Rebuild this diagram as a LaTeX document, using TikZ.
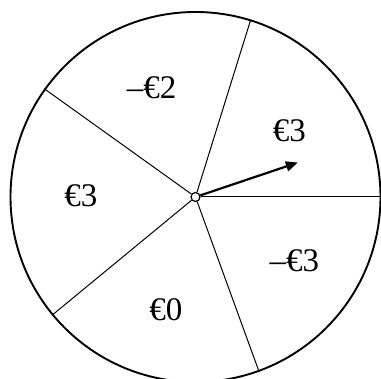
\documentclass[tikz,border=0pt]{standalone}
\usepackage{fontspec}
\setmainfont{Liberation Serif}
\usetikzlibrary{arrows.meta}

\begin{document}
\begin{tikzpicture}[x=1pt, y=1pt, spoke/.style={line width=1pt}, amount/.style={font=\fontsize{33}{35}\selectfont, inner sep=0pt}]
    \useasboundingbox (-195.5,-182) rectangle (185.5,197);
    \clip (-195.5,-182) rectangle (185.5,197);
    \draw[line width=1.9pt] (0,0) circle (185);
    \node (hub) [circle, draw, fill=white, inner sep=0pt, minimum size=9pt, line width=1.2pt] at (0,0) {};
    \coordinate (s1) at (0:186);
    \coordinate (s2) at (72.7:186);
    \coordinate (s3) at (144.4:186);
    \coordinate (s4) at (219.5:186);
    \coordinate (s5) at (290:186);
    \coordinate (tip) at (18.6:108);
    \draw[spoke] (hub) -- (s1);
    \draw[spoke] (hub) -- (s2);
    \draw[spoke] (hub) -- (s3);
    \draw[spoke] (hub) -- (s4);
    \draw[spoke] (hub) -- (s5);
    \draw[line width=2.2pt, -{Triangle[length=12pt,width=10pt]}] (hub) -- (tip);
    \node (mtwo)   [amount] at (-43.8,109.7) {–€2};
    \node (pthreea) [amount] at (93.8,66) {€3};
    \node (pthreeb) [amount] at (-114.5,1) {€3};
    \node (mthree) [amount] at (98.8,-63.7) {–€3};
    \node (zero)   [amount] at (-29.5,-113) {€0};
  \end{tikzpicture}
\end{document}
